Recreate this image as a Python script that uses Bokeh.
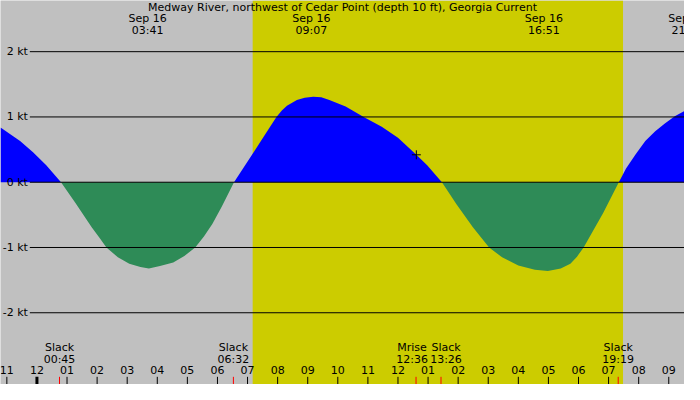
import numpy as np
from bokeh.core.properties import value
from bokeh.embed import file_html
from bokeh.models import BoxAnnotation, Range1d
from bokeh.plotting import figure
from bokeh.resources import INLINE

title = "Medway River, northwest of Cedar Point (depth 10 ft), Georgia Current"

# tidal current: hours after midnight Sep 16 -> knots (+ flood, - ebb)
hours = [-1.21, -0.56, -0.13, 0.31, 0.80,
         1.28, 1.82, 2.09, 2.31, 2.69, 3.07, 3.44, 3.72, 4.09, 4.53, 4.90,
         5.26, 5.55, 5.83, 6.15, 6.55,
         7.23, 7.61, 7.96, 8.14, 8.31, 8.64, 8.90, 9.18, 9.45, 9.72, 10.26,
         10.86, 11.46, 12.00, 12.61, 12.97, 13.46,
         13.95, 14.49, 15.03, 15.46, 16.00, 16.55, 16.98, 17.41, 17.73,
         17.95, 18.17, 18.49, 18.82, 19.34,
         19.58, 19.90, 20.22, 20.55, 20.87, 21.20, 21.52]
knots = [0.84, 0.63, 0.46, 0.26, 0.0,
         -0.32, -0.69, -0.86, -1.0, -1.15, -1.25, -1.30, -1.32, -1.285, -1.23, -1.13,
         -1.0, -0.83, -0.64, -0.37, 0.0,
         0.48, 0.75, 1.0, 1.10, 1.17, 1.26, 1.295, 1.31, 1.30, 1.26, 1.16,
         1.0, 0.85, 0.68, 0.42, 0.26, 0.0,
         -0.34, -0.69, -1.0, -1.15, -1.275, -1.34, -1.36, -1.32, -1.25,
         -1.14, -1.0, -0.74, -0.47, 0.0,
         0.21, 0.43, 0.63, 0.78, 0.90, 1.01, 1.09]

# max current labels along the top
peak_hours = [3.68, 9.12, 16.85, 21.62]
peak_dates = ["Sep 16", "Sep 16", "Sep 16", "Sep 16"]
peak_times = ["03:41", "09:07", "16:51", "21:37"]

# slack water and moonrise along the bottom
event_hours = [0.75, 6.53, 12.60, 13.43, 19.32]
event_names = ["Slack", "Slack", "Mrise", "Slack", "Slack"]
event_times = ["00:45", "06:32", "12:36", "13:26", "19:19"]

sunrise, sunset = 7.17, 19.48
now_hour, now_knots = 12.61, 0.42
kt_levels = [2, 1, 0, -1, -2]
hour_ticks = list(range(-1, 22))

font = value("DejaVu Sans")
fsize = "11px"

p = figure(width=684, height=384, x_range=Range1d(-1.211, 21.523),
           y_range=Range1d(-3.099, 2.784), output_backend="svg",
           toolbar_location=None, x_axis_location=None, y_axis_location=None,
           background_fill_color="#c0c0c0", border_fill_color="#c0c0c0",
           outline_line_color=None, min_border=0)
p.grid.visible = False
# reference pixel frame for the decorations
p.extra_x_ranges = {"px": Range1d(0, 700)}
p.extra_y_ranges = {"px": Range1d(400, 0)}

# daylight
p.add_layout(BoxAnnotation(left=sunrise, right=sunset, fill_color="#cccc00",
                           fill_alpha=1, line_color=None, level="underlay"))

t = np.array(hours)
k = np.array(knots)
p.varea(x=t, y1=0, y2=np.maximum(k, 0), fill_color="#0000ff")
p.varea(x=t, y1=0, y2=np.minimum(k, 0), fill_color="#2e8b57")

# knot lines and labels
p.segment(x0=30, x1=700, y0=kt_levels, y1=kt_levels, x_range_name="px",
          line_color="black", line_width=1)
p.text(x=28, y=kt_levels, text=[f"{v} kt" for v in kt_levels], x_range_name="px",
       text_align="right", text_baseline="middle", text_font=font,
       text_font_size=fsize, text_color="black")

# hour ticks
p.segment(x0=hour_ticks, x1=hour_ticks, y0=392, y1=400, y_range_name="px",
          line_color="black", line_width=[3 if h % 24 == 0 else 1 for h in hour_ticks])
p.text(x=hour_ticks, y=385, text=["%02d" % ((h % 12) or 12) for h in hour_ticks],
       y_range_name="px", text_align="center", text_baseline="middle",
       text_font=font, text_font_size=fsize, text_color="black")

# event ticks and labels
p.segment(x0=event_hours, x1=event_hours, y0=392, y1=400, y_range_name="px",
          line_color="red", line_width=1)
offsets = []
for i, h in enumerate(event_hours):
    dx = 0
    if i + 1 < len(event_hours) and event_hours[i + 1] - h < 1:
        dx = -4
    if i > 0 and h - event_hours[i - 1] < 1:
        dx = 5
    offsets.append(dx)
p.text(x=event_hours, y=361, text=event_names, x_offset=offsets, y_range_name="px",
       text_align="center", text_baseline="middle", text_font=font,
       text_font_size=fsize, text_color="black")
p.text(x=event_hours, y=374, text=event_times, x_offset=offsets, y_range_name="px",
       text_align="center", text_baseline="middle", text_font=font,
       text_font_size=fsize, text_color="black")

# max current labels
p.text(x=peak_hours, y=19, text=peak_dates, y_range_name="px",
       text_align="center", text_baseline="middle", text_font=font,
       text_font_size=fsize, text_color="black")
p.text(x=peak_hours, y=31, text=peak_times, y_range_name="px",
       text_align="center", text_baseline="middle", text_font=font,
       text_font_size=fsize, text_color="black")

# title
p.text(x=[350], y=[7], text=[title], x_range_name="px", y_range_name="px",
       text_align="center", text_baseline="middle", text_font=font,
       text_font_size=fsize, text_color="black")

# current time marker
p.scatter(x=[now_hour], y=[now_knots], marker="cross", size=9,
          line_color="black", line_width=1)

open("out.html", "w").write(file_html(p, INLINE))
